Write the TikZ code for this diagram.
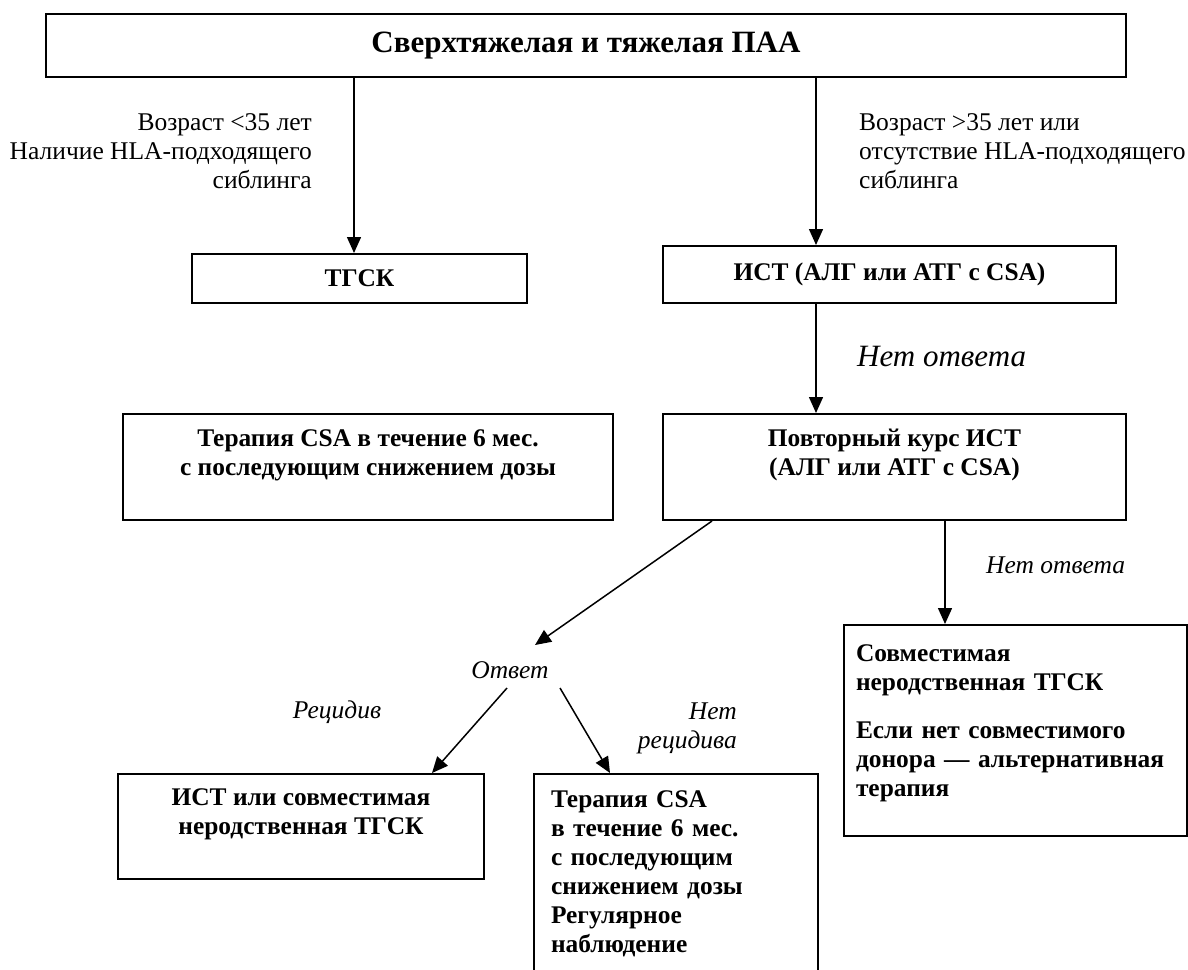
\documentclass[tikz,border=0pt]{standalone}
\usepackage{fontspec}
\setmainfont{Liberation Serif}
\usepackage{tikz}
\usetikzlibrary{arrows.meta}
\usetikzlibrary{positioning}
\usetikzlibrary{calc}
\tikzset{
    box/.style={draw=black, line width=2pt, anchor=north west, inner sep=0pt,
        align=center, font=\bfseries\fontsize{25.4}{29}\selectfont},
    flow/.style={draw=black, line width=1.5pt, -{Triangle[length=16pt,width=14pt]}},
    cond/.style={font=\fontsize{25.5}{29}\selectfont, inner sep=0pt},
    answer/.style={font=\itshape\fontsize{25.5}{29}\selectfont, inner sep=0pt},
}
\begin{document}
\begin{tikzpicture}[x=1pt, y=-1pt]
	\useasboundingbox (0,0) rectangle (1188,969);
	\clip (0,0) rectangle (1188,969);
	% boxes
	\node[box, minimum width=1080, minimum height=63] (sah) at (45,13) {\fontsize{31}{36}\selectfont Сверхтяжелая и тяжелая ПАА};
	\node[box, minimum width=335, minimum height=49] (tgsk) at (191,253) {ТГСК};
	\node[box, minimum width=453, minimum height=57] (ist) at (662,245) {ИСТ (АЛГ или АТГ с CSA)};
	\node[box, minimum width=490, minimum height=106] (ter) at (122,413) {Терапия CSA в течение 6 мес.\\с последующим снижением дозы\\ \mbox{}};
	\node[box, minimum width=463, minimum height=106] (povtor) at (662,413) {Повторный курс ИСТ\\(АЛГ или АТГ с CSA)\\ \mbox{}};
	\node[box, align=left, text width=319, minimum width=343, minimum height=211] (sovm) at (843,624) {Совместимая\\неродственная ТГСК\\[19pt]Если нет совместимого\\донора — альтернативная\\терапия\\[-10pt] \mbox{}};
	\node[box, minimum width=366, minimum height=105] (isk) at (117,773) {ИСТ или совместимая\\неродственная ТГСК\\ \mbox{}};
	\node[box, align=left, text width=250, minimum width=284, inner ysep=17pt] (ter2) at (533,773) {Терапия CSA\\в течение 6 мес.\\с последующим\\снижением дозы\\Регулярное\\наблюдение\\ \mbox{}};
	% labels
	\node[cond, align=right, anchor=east] (young) at (312,151) {Возраст <35 лет\\Наличие HLA-подходящего\\сиблинга};
	\node[cond, align=left, anchor=west] (old) at (859,151) {Возраст >35 лет или\\отсутствие HLA-подходящего\\сиблинга};
	\node[answer, font=\itshape\fontsize{31}{36}\selectfont, anchor=west] (noresp) at (857,357) {Нет ответа};
	\node[answer, anchor=west] (noresp2) at (986,565) {Нет ответа};
	\node[answer] (otvet) at (510,670) {Ответ};
	\node[answer] (relapse) at (337,712) {Рецидив};
	\node[answer, align=right, anchor=east] (norelapse) at (737,728) {Нет\\рецидива};
	% arrows
	\draw[flow] ($(sah.south west)+(309,0)$) -- ($(tgsk.north west)+(163,0)$);
	\draw[flow] ($(sah.south west)+(771,0)$) -- ($(ist.north west)+(154,0)$);
	\draw[flow] ($(ist.south west)+(154,0)$) -- ($(povtor.north west)+(154,0)$);
	\draw[flow] ($(povtor.south west)+(283,0)$) -- ($(sovm.north west)+(102,0)$);
	\draw[flow] ($(povtor.south west)+(50,0)$) -- ($(otvet.center)+(25,-25)$);
	\draw[flow] ($(otvet.center)+(-3,18)$) -- ($(isk.north west)+(315,0)$);
	\draw[flow] ($(otvet.center)+(50,18)$) -- ($(ter2.north west)+(77,0)$);
\end{tikzpicture}
\end{document}
